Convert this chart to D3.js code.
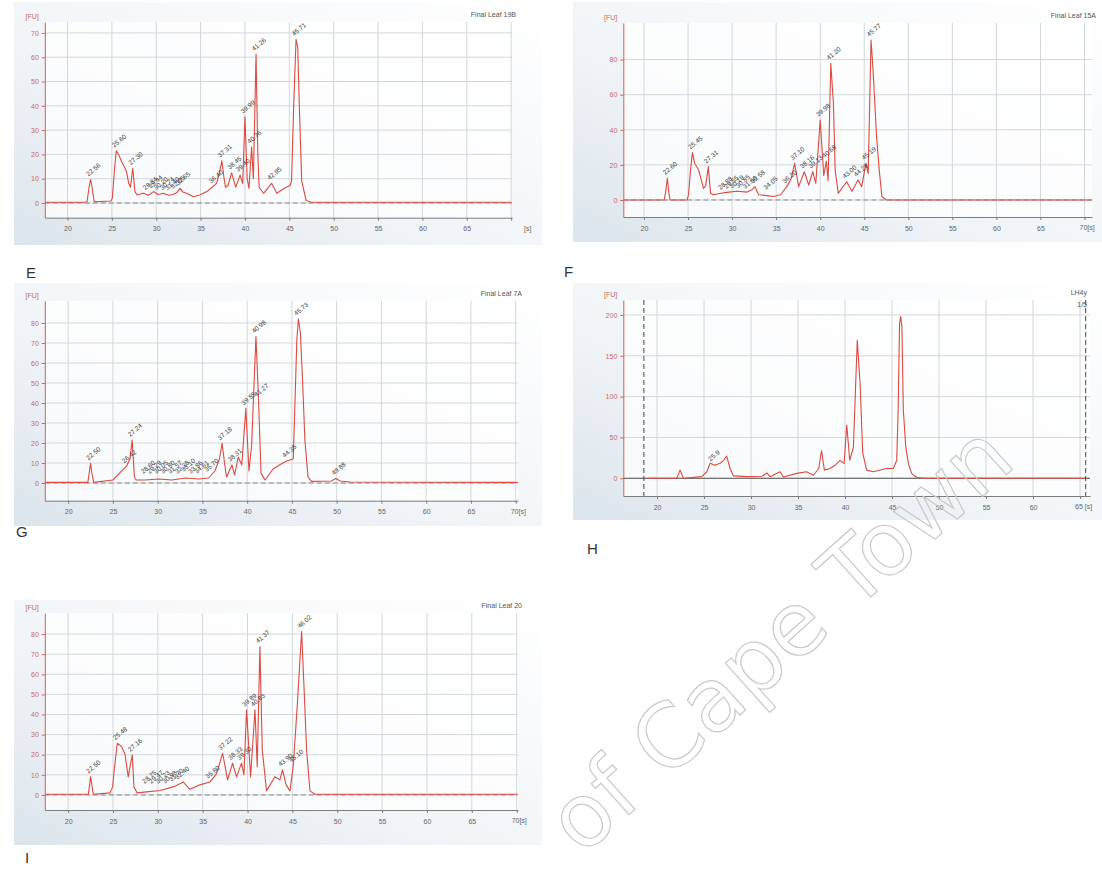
<!DOCTYPE html>
<html>
<head>
<meta charset="utf-8">
<script src="https://cdn.jsdelivr.net/npm/d3@7/dist/d3.min.js"></script>
<style>
  body { margin: 0; background: #fff; }
  svg { display: block; font-family: "Liberation Sans", Arial, sans-serif; }
</style>
</head>
<body>
<svg id="chart" width="1102" height="875"></svg>
<script>
// ---- data ----
const xTicks = [20, 25, 30, 35, 40, 45, 50, 55, 60, 65, 70];
const xTicksH = [20, 25, 30, 35, 40, 45, 50, 55, 60, 65];
const eYTicks = [0, 10, 20, 30, 40, 50, 60, 70];
const fYTicks = [0, 20, 40, 60, 80];
const gYTicks = [0, 10, 20, 30, 40, 50, 60, 70, 80];
const hYTicks = [0, 50, 100, 150, 200];
const iYTicks = [0, 10, 20, 30, 40, 50, 60, 70, 80];

const titles = { E: ['Final Leaf 19B'], F: ['Final Leaf 15A'], G: ['Final Leaf 7A'], H: ['LH4y', '1/5'], I: ['Final Leaf 20'] };

// [time s, FU]
const eTrace = [[17.5,0.3],[21.9,0.3],[22.2,0.5],[22.45,7],[22.6,9.7],[22.75,7],[23.0,0.5],[24.9,0.8],[25.05,2],[25.3,14],[25.5,21.5],[25.8,19.7],[26.1,17],[26.4,14.9],[26.65,12.9],[26.9,8.1],[27.1,6.5],[27.35,14.3],[27.6,4.7],[27.85,3.3],[28.55,4],[29.1,3.2],[29.7,4.7],[30.2,3.5],[30.8,4],[31.4,3.2],[31.9,3.5],[32.3,4.2],[32.7,6],[33.0,4.5],[33.4,4],[34.2,2.6],[34.9,3.3],[35.7,4.7],[36.4,6.8],[36.8,8.1],[37.1,12],[37.4,17.4],[37.65,10],[37.8,6.5],[38.1,7.3],[38.5,12.4],[38.96,6.5],[39.45,11.5],[39.75,8],[40.0,35.5],[40.25,10],[40.45,6],[40.75,23],[40.95,10],[41.25,61.2],[41.45,20],[41.6,6.5],[42.1,4],[43.0,8.1],[43.6,4],[44.4,6],[45.1,7.3],[45.25,9],[45.5,41],[45.76,67.4],[45.95,64],[46.15,37],[46.4,9],[46.9,1],[47.5,0.3],[70,0.3]];
const fTrace = [[17.7,0],[22.3,0],[22.5,6],[22.65,12.5],[22.8,5],[22.95,0],[24.9,0],[25.05,3],[25.3,18],[25.5,27],[25.75,20.9],[26.2,17.1],[26.5,11.4],[26.75,6.6],[27.0,8],[27.3,19],[27.55,3.8],[27.85,3],[28.9,4],[29.6,4.5],[30.6,5],[31.7,4.5],[32.3,6],[32.6,7.6],[33.0,3],[33.9,2.5],[34.7,2],[35.5,3],[36.2,7.6],[36.7,12],[37.1,20.9],[37.55,7.6],[38.2,16.1],[38.7,8.5],[39.15,16.1],[39.5,9.5],[40.0,45.6],[40.4,14],[40.7,22],[40.9,11],[41.2,77.9],[41.5,55],[41.7,17],[42.05,3.8],[43.0,10.4],[43.6,5],[44.3,11.4],[44.7,7.6],[45.2,20.9],[45.45,15],[45.77,91.2],[46.0,74],[46.4,36],[46.7,17],[47.0,2],[47.5,0],[70.8,0]];
const gTrace = [[17.4,0.3],[22.2,0.3],[22.35,5],[22.5,9.8],[22.65,5],[22.85,0.3],[25.0,1.5],[25.9,5.7],[26.5,8.3],[26.9,12],[27.15,21.5],[27.4,3],[27.6,1.5],[28.6,1.5],[30.1,2],[31.6,1.5],[33.1,2.5],[34.6,2],[35.7,2.5],[36.4,6],[36.9,12],[37.2,19.8],[37.5,9],[37.7,3],[38.3,9],[38.6,4],[39.0,13],[39.4,9],[39.85,37.3],[40.2,6],[40.5,19],[40.98,73.2],[41.27,41.5],[41.55,4.8],[42.0,1.5],[42.9,7],[43.6,9],[44.4,11],[45.15,12],[45.35,41.5],[45.55,71.5],[45.72,82],[45.95,75],[46.2,50],[46.45,21.5],[46.8,3],[47.2,0.8],[49.4,1],[49.9,2.2],[50.4,1],[51.5,0.5],[70.2,0.3]];
const hTrace = [[19,0],[22.1,0],[22.3,6],[22.45,10],[22.6,6],[22.8,0],[24.75,2],[25.3,8],[25.64,18.4],[26.17,16],[26.7,18.4],[27.1,22],[27.4,27.3],[27.77,12],[28.12,3],[29.5,2],[31.2,2.5],[31.67,6.5],[32.02,2],[33.08,8],[33.44,1.5],[34.86,6],[35.9,8],[36.63,3.7],[37.2,12],[37.5,34],[37.8,10],[38.4,12],[38.94,16],[39.47,22],[39.9,18],[40.18,65.3],[40.5,22],[40.89,38],[41.3,169],[41.6,116],[41.88,31],[42.3,10],[43.0,8],[44.4,12],[45.14,12],[45.5,22],[45.65,84],[45.8,190],[45.92,198],[46.05,185],[46.2,84],[46.45,40],[46.74,18],[47.09,6],[47.62,1],[48.5,0],[65.5,0]];
const iTrace = [[17.5,0.3],[22.25,0.3],[22.4,5],[22.5,9.1],[22.65,5],[22.8,0.3],[24.66,1],[24.96,4],[25.2,15],[25.48,25.7],[25.96,24],[26.33,20.5],[26.6,12],[26.7,9],[26.9,14],[27.15,19.9],[27.34,4],[27.7,1],[28.75,1.5],[30.23,2.2],[31.72,4],[32.84,6.4],[33.58,2.8],[34.69,5],[35.8,6.4],[36.55,10.6],[37.22,20.7],[37.78,7.5],[38.33,15.8],[38.78,9],[39.33,15.8],[39.6,10],[39.89,42.3],[40.34,9],[40.83,42.3],[41.08,14],[41.38,73.8],[41.64,22.4],[42.12,2],[43.05,9],[43.6,7.5],[43.9,12.5],[44.3,5],[44.73,2],[45.1,14.5],[45.55,45],[46.03,81.3],[46.33,50],[46.59,22],[46.96,2],[47.5,0.3],[70.1,0.3]];

// peak labels: [time, FU, text]
const eLabels = [[22.6,9.7,'22.56'],[25.5,21.5,'25.60'],[27.35,14.3,'27.30'],[29.0,4,'28.84'],[29.6,4.7,'29.44'],[30.2,4,'30.20'],[30.9,4,'30.74'],[31.5,4,'31.40'],[32.1,4.5,'32.05'],[32.7,6,'32.65'],[36.4,6.8,'36.40'],[37.4,17.4,'37.31'],[38.5,12.4,'38.45'],[39.45,11.5,'39.40'],[40.0,35.5,'39.99'],[40.75,23,'40.76'],[41.25,61.2,'41.26'],[43.0,8.1,'42.95'],[45.76,67.4,'45.71']];
const fLabels = [[22.65,12.5,'22.60'],[25.5,27,'25.45'],[27.3,19,'27.31'],[28.9,4,'28.88'],[29.6,4.5,'29.55'],[30.2,4.7,'30.19'],[30.9,5,'30.85'],[31.7,4.5,'31.66'],[32.6,7.6,'32.58'],[34.05,4,'34.05'],[36.2,7.6,'36.20'],[37.1,20.9,'37.10'],[38.2,16.1,'38.16'],[39.15,16.1,'39.13'],[40.0,45.6,'39.98'],[40.7,22,'40.68'],[41.2,77.9,'41.20'],[43.0,10.4,'43.00'],[44.3,11.4,'44.28'],[45.2,20.9,'45.19'],[45.77,91.2,'45.77']];
const gLabels = [[22.5,9.8,'22.50'],[26.5,8.3,'26.42'],[27.15,21.5,'27.24'],[28.6,3,'28.60'],[29.3,3,'29.29'],[30.05,3,'30.05'],[30.8,3,'30.80'],[31.6,3,'31.57'],[32.4,3,'32.38'],[33.1,4,'33.10'],[33.9,3,'33.86'],[34.6,3,'34.61'],[35.7,4,'35.70'],[37.2,19.8,'37.18'],[38.3,9,'38.31'],[39.85,37.3,'39.85'],[40.98,73.2,'40.98'],[41.27,41.5,'41.27'],[44.4,11,'44.35'],[45.72,82,'45.73'],[49.9,2.2,'49.88']];
const hLabels = [[25.9,17,'25.9']];
const iLabels = [[22.5,9.1,'22.50'],[25.48,25.7,'25.48'],[27.15,19.9,'27.16'],[28.75,4,'28.75'],[29.5,4,'29.47'],[30.23,4,'30.23'],[31.0,4,'30.98'],[31.72,5,'31.70'],[32.4,6,'32.40'],[35.8,6.4,'35.80'],[37.22,20.7,'37.22'],[38.33,15.8,'38.33'],[39.33,15.8,'39.30'],[39.89,42.3,'39.89'],[40.83,42.3,'40.83'],[41.38,73.8,'41.37'],[43.9,12.5,'43.90'],[45.1,14.5,'45.10'],[46.03,81.3,'46.02']];

// ---- layout ----
const panels = [
  { id: 'E', trace: eTrace, labels: eLabels, yTicks: eYTicks, xTicks: xTicks, lastLabel: '[s]',
    box: [14, 2, 528, 243], left: 44.8, right: 512, top: 22, bottom: 217.7, tDomain: [17.44, 70.1], vDomain: [-6.05, 74.5],
    letter: [26, 278] },
  { id: 'F', trace: fTrace, labels: fLabels, yTicks: fYTicks, xTicks: xTicks, lastLabel: '70[s]',
    box: [573, 2, 529, 240], left: 623.3, right: 1092, top: 23, bottom: 217, tDomain: [17.65, 70.85], vDomain: [-9.7, 100.85],
    letter: [564, 277] },
  { id: 'G', trace: gTrace, labels: gLabels, yTicks: gYTicks, xTicks: xTicks, lastLabel: '70[s]',
    box: [14, 283, 528, 243], left: 44.8, right: 518, top: 300.7, bottom: 500.7, tDomain: [17.39, 70.26], vDomain: [-8.85, 91.15],
    letter: [16, 537] },
  { id: 'H', trace: hTrace, labels: hLabels, yTicks: hYTicks, xTicks: xTicksH, lastLabel: '65 [s]', dashed: [18.6, 65.6],
    box: [573, 283, 529, 237], left: 623.3, right: 1090, top: 300, bottom: 496, tDomain: [16.41, 66.06], vDomain: [-21.7, 218.3],
    letter: [587, 554] },
  { id: 'I', trace: iTrace, labels: iLabels, yTicks: iYTicks, xTicks: xTicks, lastLabel: '70[s]',
    box: [14, 600, 528, 245], left: 44.8, right: 518, top: 613, bottom: 810, tDomain: [17.4, 70.15], vDomain: [-7.5, 90.5],
    letter: [25, 863] }
];

const svg = d3.select('#chart');
const defs = svg.append('defs');
const grad = defs.append('linearGradient').attr('id', 'panelBg')
  .attr('x1', 1).attr('y1', 0).attr('x2', 0).attr('y2', 1);
grad.append('stop').attr('offset', '0%').attr('stop-color', '#ffffff');
grad.append('stop').attr('offset', '55%').attr('stop-color', '#f2f5f8');
grad.append('stop').attr('offset', '100%').attr('stop-color', '#dce5ec');

function drawPanel(p) {
  const x = d3.scaleLinear().domain(p.tDomain).range([p.left, p.right]);
  const y = d3.scaleLinear().domain(p.vDomain).range([p.bottom, p.top]);
  const g = svg.append('g');

  g.append('rect')
    .attr('x', p.box[0]).attr('y', p.box[1]).attr('width', p.box[2]).attr('height', p.box[3])
    .attr('fill', 'url(#panelBg)');
  g.append('rect')
    .attr('x', p.left).attr('y', p.top).attr('width', p.right - p.left).attr('height', p.bottom - p.top)
    .attr('fill', '#fff').attr('opacity', 0.75);

  // grid
  g.selectAll('.vg').data(p.xTicks).enter().append('line')
    .attr('x1', d => x(d)).attr('x2', d => x(d))
    .attr('y1', p.top).attr('y2', p.bottom)
    .attr('stroke', '#d3d7dc').attr('stroke-width', 1);
  g.selectAll('.hg').data(p.yTicks).enter().append('line')
    .attr('x1', p.left).attr('x2', p.right)
    .attr('y1', d => y(d)).attr('y2', d => y(d))
    .attr('stroke', '#d3d7dc').attr('stroke-width', 1);

  // baseline at 0
  if (p.id === 'H') {
    g.append('line').attr('x1', p.left).attr('x2', p.right).attr('y1', y(0)).attr('y2', y(0))
      .attr('stroke', '#555').attr('stroke-width', 1);
    g.selectAll('.dl').data(p.dashed).enter().append('line')
      .attr('x1', d => x(d)).attr('x2', d => x(d)).attr('y1', p.top).attr('y2', p.bottom)
      .attr('stroke', '#444').attr('stroke-width', 1).attr('stroke-dasharray', '5,3');
  } else {
    g.append('line').attr('x1', p.left).attr('x2', p.right).attr('y1', y(0)).attr('y2', y(0))
      .attr('stroke', '#8a8a8a').attr('stroke-width', 1).attr('stroke-dasharray', '5,3');
  }

  // trace
  const line = d3.line().x(d => x(d[0])).y(d => y(d[1]));
  g.append('path').datum(p.trace)
    .attr('d', line)
    .attr('fill', 'none')
    .attr('stroke', '#dc4a40')
    .attr('stroke-width', 1.1)
    .attr('stroke-linejoin', 'round');

  // peak labels
  g.selectAll('.pl').data(p.labels).enter().append('text')
    .attr('transform', d => `translate(${x(d[0]) - 2},${y(d[1]) - 3}) rotate(-40)`)
    .attr('font-size', 6.5)
    .attr('fill', '#3f3f3f')
    .text(d => d[2]);

  // axes
  const xAxis = d3.axisBottom(x).tickValues(p.xTicks).tickSize(3).tickSizeOuter(0)
    .tickFormat((d, i) => i === p.xTicks.length - 1 ? '' : d);
  const xa = g.append('g').attr('transform', `translate(0,${p.bottom})`).call(xAxis);
  xa.select('.domain').attr('stroke', '#7d7d7d');
  xa.selectAll('line').attr('stroke', '#7d7d7d');
  xa.selectAll('text').attr('font-size', 7).attr('fill', '#666').attr('dy', '1.1em');
  const last = p.xTicks[p.xTicks.length - 1];
  g.append('text')
    .attr('x', x(last) + (p.id === 'E' ? 13 : -5))
    .attr('y', p.bottom + 13)
    .attr('font-size', 7).attr('fill', '#666')
    .text(p.lastLabel);

  const yAxis = d3.axisLeft(y).tickValues(p.yTicks).tickSize(3).tickSizeOuter(0);
  const ya = g.append('g').attr('transform', `translate(${p.left},0)`).call(yAxis);
  ya.select('.domain').attr('stroke', '#d85a55');
  ya.selectAll('line').attr('stroke', '#d85a55');
  ya.selectAll('text').attr('font-size', 7).attr('fill', '#c86a66');

  g.append('text')
    .attr('x', p.left - 6).attr('y', p.top - 3)
    .attr('text-anchor', 'end')
    .attr('font-size', 7).attr('fill', '#c86a66')
    .text('[FU]');

  // title (top right)
  g.selectAll('.tt').data(titles[p.id]).enter().append('text')
    .attr('x', p.right + (p.id === 'H' ? -3 : 4))
    .attr('y', (d, i) => p.top - 5 + i * 12)
    .attr('text-anchor', 'end')
    .attr('font-size', 7).attr('fill', '#555')
    .text(d => d);

  // panel letter
  svg.append('text')
    .attr('x', p.letter[0]).attr('y', p.letter[1])
    .attr('font-size', 15).attr('fill', '#333')
    .text(p.id);
}

panels.forEach(drawPanel);

// watermark (outlined text over the lower right, drawn last)
svg.append('text')
  .attr('transform', 'translate(582,857) rotate(-42)')
  .attr('text-anchor', 'start')
  .attr('font-family', '"DejaVu Sans", sans-serif')
  .attr('font-size', 88)
  .attr('fill', 'none')
  .attr('stroke', '#c9c9c9')
  .attr('stroke-width', 1.2)
  .text('of Cape Town');
</script>
</body>
</html>
